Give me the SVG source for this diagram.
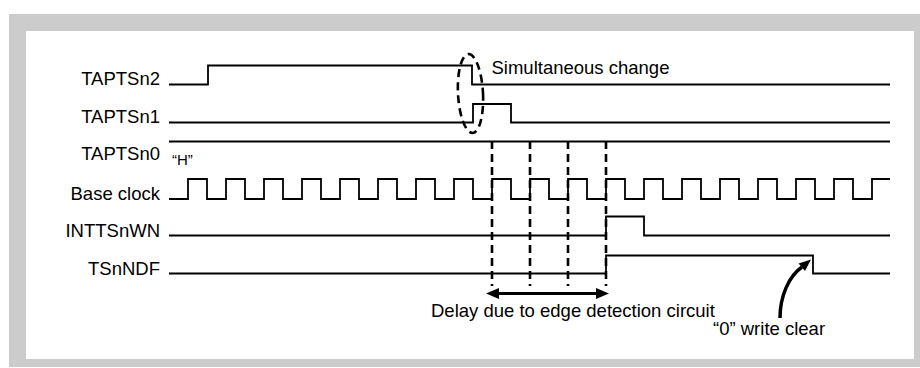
<svg xmlns="http://www.w3.org/2000/svg" width="920" height="368" viewBox="0 0 920 368">
<style>
  .lbl { font-family: "Liberation Sans", Arial, Helvetica, sans-serif; font-size: 18.5px; fill: #000; }
  .small { font-family: "Liberation Sans", Arial, Helvetica, sans-serif; font-size: 15px; fill: #000; }
  .sig { fill: none; stroke: #000; stroke-width: 1.8; stroke-linejoin: miter; }
  .dash { fill: none; stroke: #000; stroke-width: 2.6; stroke-dasharray: 8 5; }
  .head { fill: #000; stroke: none; }
</style>
<rect x="9" y="14" width="911" height="353" fill="#cccccc"/>
<rect x="26" y="31" width="888" height="328" fill="#ffffff"/>

<g id="TAPTSn2">
  <text class="lbl" x="160" y="85" text-anchor="end">TAPTSn2</text>
  <path class="sig" d="M169,84.5 H208 V65.5 H472 V84.5 H890"/>
</g>
<g id="TAPTSn1">
  <text class="lbl" x="160" y="123" text-anchor="end">TAPTSn1</text>
  <path class="sig" d="M169,122.5 H473 V104 H511 V122.5 H890"/>
</g>
<g id="TAPTSn0">
  <text class="lbl" x="160" y="160" text-anchor="end">TAPTSn0</text>
  <path class="sig" d="M169,141.5 H890"/>
  <text class="small" x="172" y="165">“H”</text>
</g>
<g id="BaseClock">
  <text class="lbl" x="160" y="199.5" text-anchor="end">Base clock</text>
  <path class="sig" d="M169,199 H188 V179 H207 V199 H226 V179 H245 V199 H264 V179 H283 V199 H302 V179 H321 V199 H340 V179 H359 V199 H378 V179 H397 V199 H416 V179 H435 V199 H454 V179 H473 V199 H492 V179 H511 V199 H530 V179 H549 V199 H568 V179 H587 V199 H606 V179 H625 V199 H644 V179 H663 V199 H682 V179 H701 V199 H720 V179 H739 V199 H758 V179 H777 V199 H796 V179 H815 V199 H834 V179 H853 V199 H872 V179 H890"/>
</g>
<g id="INTTSnWN">
  <text class="lbl" x="160" y="237" text-anchor="end">INTTSnWN</text>
  <path class="sig" d="M169,235.5 H606 V216.5 H644 V235.5 H890"/>
</g>
<g id="TSnNDF">
  <text class="lbl" x="160" y="274.5" text-anchor="end">TSnNDF</text>
  <path class="sig" d="M169,273.5 H606 V255.5 H813 V273.5 H890"/>
</g>

<g id="annotations">
  <ellipse class="dash" cx="470.5" cy="93.5" rx="12.5" ry="39.5" transform="rotate(-3 470.5 93.5)"/>
  <text class="lbl" x="491.5" y="73.5">Simultaneous change</text>
  <text class="lbl" x="431" y="317">Delay due to edge detection circuit</text>
  <text class="lbl" x="713" y="335">“0” write clear</text>
</g>

<g id="connectors">
  <line class="dash" x1="492" y1="141" x2="492" y2="286"/>
  <line class="dash" x1="530" y1="141" x2="530" y2="286"/>
  <line class="dash" x1="568" y1="141" x2="568" y2="286"/>
  <line class="dash" x1="606" y1="141" x2="606" y2="286"/>
  <line x1="497" y1="293.5" x2="598" y2="293.5" stroke="#000" stroke-width="3"/>
  <polygon class="head" points="486,293.5 499,288 499,299"/>
  <polygon class="head" points="609,293.5 596,288 596,299"/>
  <path d="M780,318 C780,296 789,276 802,267" fill="none" stroke="#000" stroke-width="3.5"/>
  <polygon class="head" points="811,259.5 805,271 798.6,263.4"/>
</g>
</svg>
